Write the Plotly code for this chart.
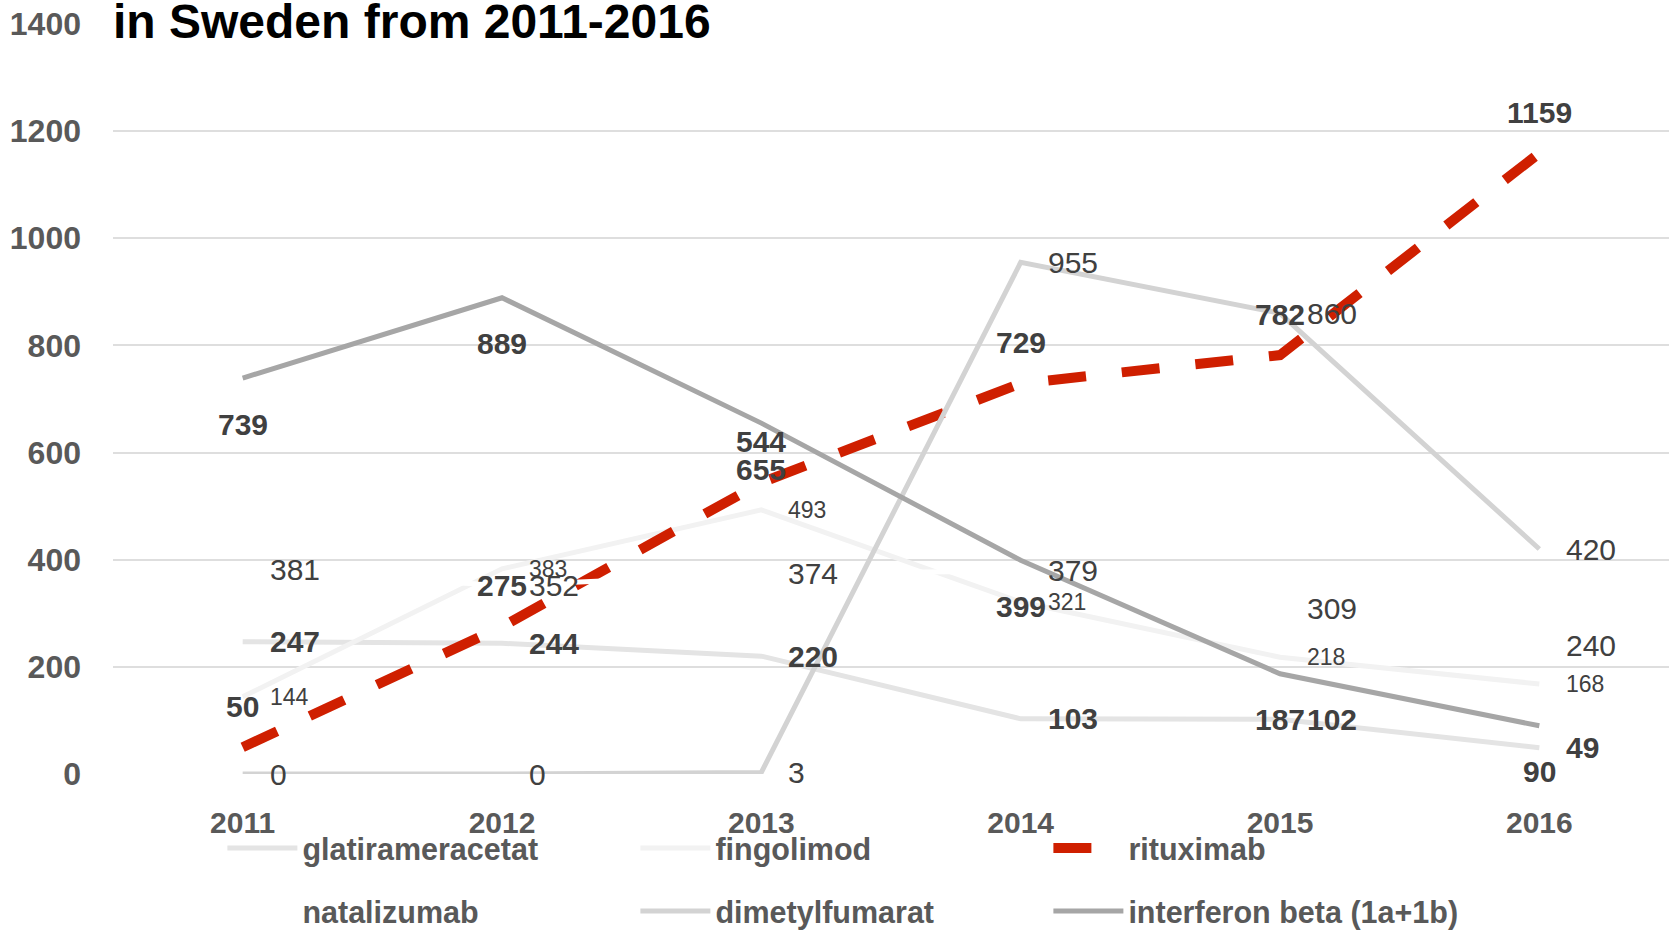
import plotly.graph_objects as go

# ---------------- data ----------------
years = ["2011", "2012", "2013", "2014", "2015", "2016"]
glatirameracetat = [247, 244, 220, 103, 102, 49]
fingolimod = [144, 383, 493, 321, 218, 168]
rituximab = [50, 275, 544, 729, 782, 1159]
natalizumab = [381, 352, 374, 379, 309, 240]
dimetylfumarat = [0, 0, 3, 955, 860, 420]
interferon = [739, 889, 655, 399, 187, 90]
y_ticks = [0, 200, 400, 600, 800, 1000, 1200, 1400]
title_text = "in Sweden from 2011-2016"

# ---------------- style ----------------
FONT = "Liberation Sans, Arial, sans-serif"
LABEL_COLOR = "#404040"
AXIS_COLOR = "#595959"

series = [
    # name, values, color, width, dash, legend, label position, label size, bold
    ("glatirameracetat", glatirameracetat, "#e4e4e4", 5, "solid", "legend", "right", 30, True),
    ("fingolimod", fingolimod, "#f2f2f2", 5, "solid", "legend", "right", 23, False),
    ("rituximab", rituximab, "#cf1f00", 10, "38px,36px", "legend", "above", 30, True),
    ("natalizumab", natalizumab, "#ffffff", 5, "solid", "legend2", "right", 30, False),
    ("dimetylfumarat", dimetylfumarat, "#d3d3d3", 5, "solid", "legend2", "right", 30, False),
    ("interferon beta (1a+1b)", interferon, "#a6a6a6", 5, "solid", "legend2", "below", 30, True),
]

fig = go.Figure()
annotations = []
for name, vals, color, width, dash, leg, pos, fsize, bold in series:
    fig.add_trace(go.Scatter(
        x=years, y=vals, name=name, mode="lines",
        line=dict(color=color, width=width, dash=dash),
        legend=leg, hoverinfo="skip",
    ))
    for i, v in enumerate(vals):
        a = dict(x=i, y=v, xref="x", yref="y", text=str(v), showarrow=False,
                 font=dict(family=FONT, size=fsize, color=LABEL_COLOR,
                           weight="bold" if bold else "normal"))
        if pos == "right":
            a.update(xanchor="left", yanchor="middle", xshift=25)
        elif pos == "above":
            a.update(xanchor="center", yanchor="middle", yshift=41)
        else:
            a.update(xanchor="center", yanchor="middle", yshift=-46)
        annotations.append(a)

annotations.append(dict(
    x=0, y=1.0036, xref="paper", yref="paper", xanchor="left", yanchor="middle",
    text=title_text, showarrow=False, xshift=-2,
    font=dict(family=FONT, size=48, color="#000000", weight="bold"),
))

legend_common = dict(
    orientation="h", xanchor="left", yanchor="middle", x=0.0703,
    itemwidth=70, entrywidth=328, entrywidthmode="pixels",
    font=dict(family=FONT, size=30.5, color=AXIS_COLOR, weight="bold"),
    bgcolor="rgba(0,0,0,0)", itemclick=False, itemdoubleclick=False,
)

fig.update_layout(
    template="none",
    width=1680, height=932,
    margin=dict(l=113, r=11, t=24, b=158, autoexpand=False),
    paper_bgcolor="white", plot_bgcolor="white",
    showlegend=True,
    xaxis=dict(type="category", range=[-0.5, 5.5], showgrid=False, showline=False,
               zeroline=False, ticks="", ticklabelstandoff=28, automargin=False,
               tickfont=dict(family=FONT, size=30, color=AXIS_COLOR, weight="bold")),
    yaxis=dict(range=[0, 1400], tickvals=y_ticks, showgrid=True, gridcolor="#dedede",
               gridwidth=2, zeroline=False, showline=False, ticks="", ticklabelstandoff=31,
               automargin=False,
               tickfont=dict(family=FONT, size=32, color=AXIS_COLOR, weight="bold")),
    legend=dict(legend_common, y=-0.099),
    legend2=dict(legend_common, y=-0.183),
    annotations=annotations,
)

fig.write_html("out.html", config={"displayModeBar": False},
               post_script="document.body.style.margin='0';")
